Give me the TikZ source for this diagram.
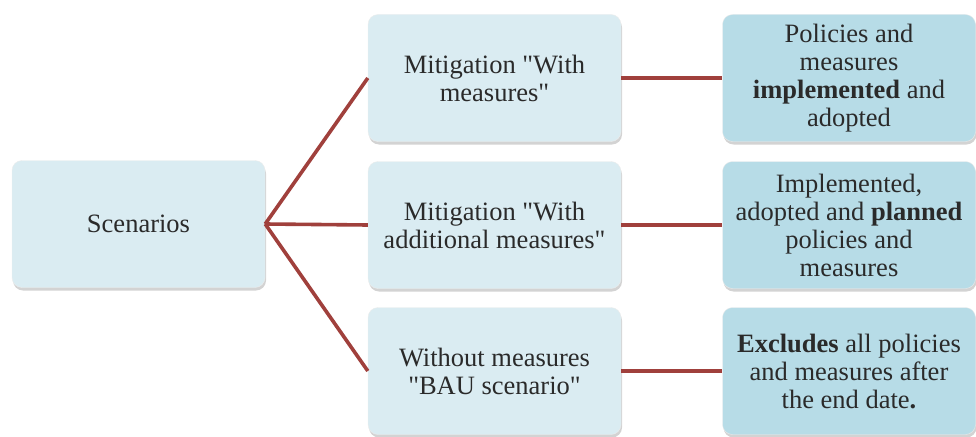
\documentclass[tikz,border=0pt]{standalone}
\usepackage{fontspec}
\setmainfont{Liberation Serif}
\usetikzlibrary{shadows}
\definecolor{paleblue}{HTML}{DAECF2}
\definecolor{midblue}{HTML}{B7DCE7}
\definecolor{linkred}{HTML}{A0403C}
\definecolor{inkgray}{HTML}{2A2A2A}

\begin{document}
\begin{tikzpicture}[x=1pt,y=-1pt]
\tikzstyle{every node}+=[font=\fontsize{26.5}{28}\selectfont, text=inkgray]
\tikzstyle{box}=[rounded corners=10pt, fill=paleblue, draw=white!85!gray, line width=0.4pt,
  minimum width=253pt, minimum height=127pt, align=center,
  drop shadow={shadow xshift=1pt, shadow yshift=-3pt, opacity=0.35, fill=gray}]
\tikzstyle{result}=[box, fill=midblue]
\tikzstyle{link}=[draw=linkred, line width=3.6pt]
\useasboundingbox (0,0) rectangle (976,436);
% left
\node[box] (scen) at (138.5,224) {Scenarios};
% middle column
\node[box] (wm) at (494.5,78) {Mitigation \textquotedbl With\\measures\textquotedbl};
\node[box] (wam) at (494.5,225) {Mitigation \textquotedbl With\\additional measures\textquotedbl};
\node[box] (wom) at (494.5,371) {Without measures\\\textquotedbl BAU scenario\textquotedbl};
% right column
\node[result] (impl) at (849,78) {Policies and\\measures\\\textbf{implemented} and\\adopted};
\node[result] (plan) at (849,225) {Implemented,\\adopted and \textbf{planned}\\policies and\\measures};
\node[result] (excl) at (849,371) {\textbf{Excludes} all policies\\and measures after\\the end date\textbf{.}};
% connectors
\draw[link] (scen.east) -- (wm.west);
\draw[link] (scen.east) -- (wam.west);
\draw[link] (scen.east) -- (wom.west);
\draw[link] (wm.east) -- (impl.west);
\draw[link] (wam.east) -- (plan.west);
\draw[link] (wom.east) -- (excl.west);
\end{tikzpicture}
\end{document}
